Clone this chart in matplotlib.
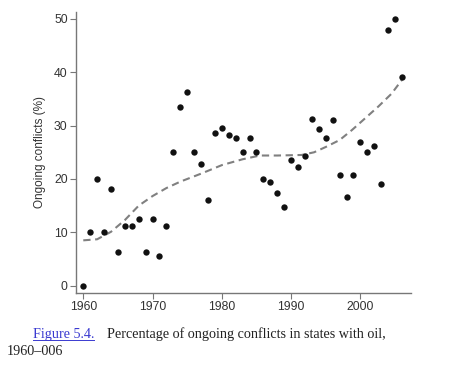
import matplotlib
matplotlib.use("Agg")
import matplotlib.pyplot as plt
from matplotlib.lines import Line2D

years = list(range(1960, 2007))
conflicts = [0.0, 10.0, 20.0, 10.0, 18.2, 6.25, 11.1, 11.1, 12.5, 6.25,
             12.5, 5.6, 11.1, 25.0, 33.4, 36.3, 25.0, 22.8, 16.0, 28.6,
             29.6, 28.2, 27.7, 25.0, 27.7, 25.0, 20.0, 19.4, 17.3, 14.7,
             23.6, 22.3, 24.4, 31.3, 29.4, 27.6, 31.0, 20.7, 16.6, 20.7,
             26.9, 25.0, 26.1, 19.1, 47.9, 50.0, 39.1]

trend_years = [1960, 1962, 1964, 1966, 1968, 1970, 1972, 1974, 1977, 1980,
               1983, 1985.5, 1988, 1991.5, 1993.3, 1995, 1997, 1998.8,
               2000.7, 2002.6, 2004.5, 2006]
trend_vals = [8.5, 8.7, 10.1, 12.3, 15.0, 16.8, 18.3, 19.5, 21.0, 22.6,
              23.7, 24.4, 24.4, 24.5, 25.0, 26.0, 27.3, 29.2,
              31.4, 33.6, 36.0, 38.6]

x_ticks = [1960, 1970, 1980, 1990, 2000]
y_ticks = [0, 10, 20, 30, 40, 50]

W, H = 454, 376
fig = plt.figure(figsize=(W / 100, H / 100), dpi=100)
ax = fig.add_axes([76 / W, 1 - 293 / H, (411 - 76) / W, (293 - 12) / H])

ax.plot(trend_years, trend_vals, linestyle=(0, (3.5, 2.2)), color="#808080",
        lw=1.5, zorder=2)
ax.scatter(years, conflicts, s=21, color="#111111", zorder=3, linewidths=0)

ax.set_xlim(1958.95, 2007.3)
ax.set_ylim(-1.37, 51.3)
ax.set_xticks(x_ticks)
ax.set_yticks(y_ticks)
for s in ["top", "right"]:
    ax.spines[s].set_visible(False)
for s in ["left", "bottom"]:
    ax.spines[s].set_color("#777777")
    ax.spines[s].set_linewidth(1.0)
ax.tick_params(direction="out", length=4, width=0.8, color="#777777",
               labelcolor="#333333", labelsize=8.8, pad=2)
for lab in ax.get_xticklabels() + ax.get_yticklabels():
    lab.set_family("Liberation Sans")
ax.set_ylabel("Ongoing conflicts (%)", fontsize=8.5, color="#333333",
              family="Liberation Sans", labelpad=6)

# Caption
fs = 10.2
fy = 1 - 338 / H
t1 = fig.text(33 / W, fy, "Figure 5.4.", color="#3a3ad0",
              family="Liberation Serif", fontsize=fs, va="baseline")
fig.text(107 / W, fy, "Percentage of ongoing conflicts in states with oil,",
         color="#222222", family="Liberation Serif", fontsize=fs, va="baseline")
fig.text(7 / W, 1 - 355 / H, "1960\u2013006", color="#222222",
         family="Liberation Serif", fontsize=fs, va="baseline")

fig.canvas.draw()
bb = t1.get_window_extent()
uy = fy - 2 / H
fig.add_artist(Line2D([bb.x0 / W, bb.x1 / W], [uy, uy], color="#3a3ad0",
                      lw=0.7, transform=fig.transFigure))

fig.savefig("out.png", dpi=100)
